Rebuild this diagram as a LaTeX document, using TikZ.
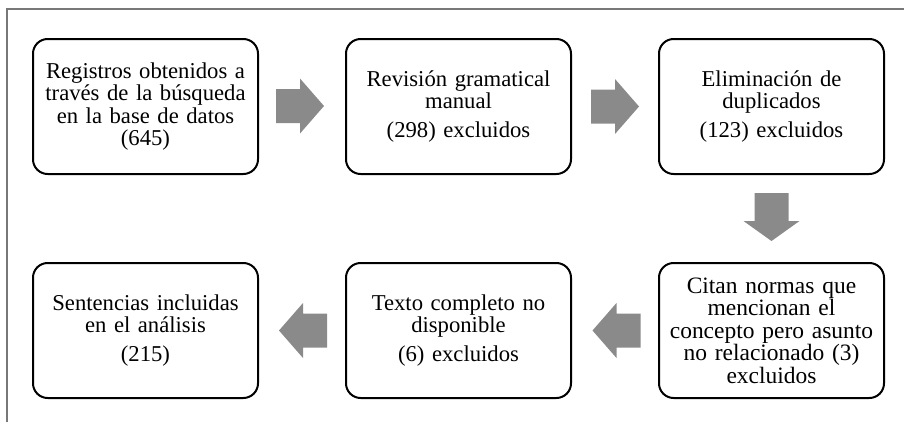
\documentclass[tikz,border=0pt]{standalone}
\usepackage{fontspec}
\setmainfont{Liberation Serif}
\usetikzlibrary{calc}
\definecolor{arrowgray}{RGB}{138,138,138}
\definecolor{framegray}{RGB}{120,120,120}
\tikzset{
  stepbox/.style={draw=black, line width=1.5pt, rounded corners=11pt, fill=white,
    minimum width=168.75pt, minimum height=101.25pt, inner sep=0pt,
    align=center, text width=164pt,
    font=\fontsize{17pt}{16.9pt}\selectfont},
  pics/hblock/.style={code={
    \fill[arrowgray] (-24,-17) -- (0,-17) -- (0,-27.5) -- (24,0) -- (0,27.5) -- (0,17) -- (-24,17) -- cycle;}},
  pics/vblock/.style={code={
    \fill[arrowgray] (-24,-17) -- (4,-17) -- (4,-28) -- (24,0) -- (4,28) -- (4,17) -- (-24,17) -- cycle;}}
}
\begin{document}
\begin{tikzpicture}[x=0.75pt,y=-0.75pt]
\useasboundingbox (0,0) rectangle (904,422);
\draw[framegray, line width=0.8pt] (904,9) -- (7,9) -- (7,422);

\node[stepbox] (b1) at (145.5,106.5) {Registros obtenidos a\\ través de la búsqueda\\ en la base de datos\\ (645)};
\node[stepbox] (b2) at (458.5,106.5) {Revisión gramatical\\ manual\\[5pt] (298) excluidos};
\node[stepbox] (b3) at (771.5,106.5) {Eliminación de\\ duplicados\\[5pt] (123) excluidos};
\node[stepbox, font=\fontsize{17.6pt}{16.9pt}\selectfont] (b4) at (771.5,330.5) {Citan normas que\\ mencionan el\\ concepto pero asunto\\ no relacionado (3)\\ excluidos};
\node[stepbox] (b5) at (458.5,330.5) {Texto completo no\\ disponible\\[5pt] (6) excluidos};
\node[stepbox] (b6) at (145.5,330.5) {Sentencias incluidas\\ en el análisis\\[5pt] (215)};

\coordinate (m1) at ($(b1.east)!0.5!(b2.west)+(-2,-0.5)$);
\coordinate (m2) at ($(b2.east)!0.5!(b3.west)$);
\coordinate (m3) at ($(b3.south)!0.5!(b4.north)+(0,-1.5)$);
\coordinate (m4) at ($(b4.west)!0.5!(b5.east)+(1.5,0)$);
\coordinate (m5) at ($(b5.west)!0.5!(b6.east)+(1,0)$);

\pic at (m1) {hblock};
\pic at (m2) {hblock};
\pic[rotate=-90] at (m3) {vblock};
\pic[rotate=180] at (m4) {hblock};
\pic[rotate=180] at (m5) {hblock};
\end{tikzpicture}
\end{document}
